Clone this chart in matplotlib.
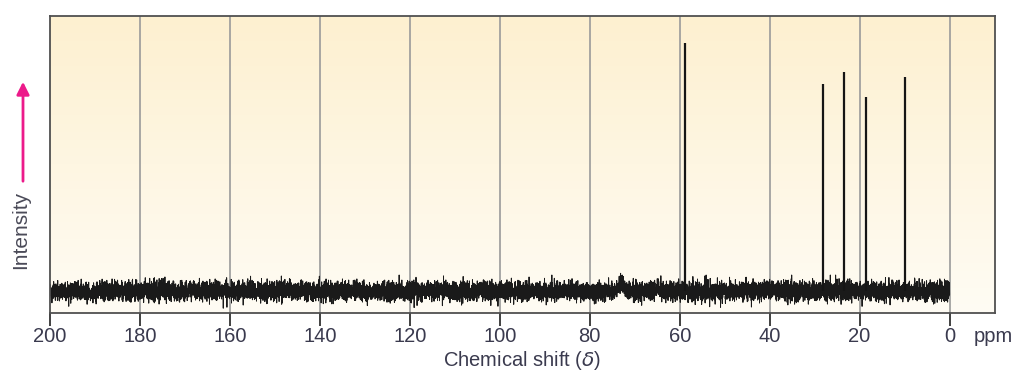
import numpy as np
import matplotlib
matplotlib.use("Agg")
import matplotlib.pyplot as plt

# peak positions (ppm) and heights (baseline = 0)
peak_ppm = [58.9, 28.2, 23.5, 18.5, 9.85]
peak_height = [248, 207, 219, 194, 214]
tick_ppm = [200, 180, 160, 140, 120, 100, 80, 60, 40, 20, 0]
tick_labels = ["200", "180", "160", "140", "120", "100", "80", "60", "40", "20", "0"]
bump_ppm = 73.1
bump_height = 9

plt.rcParams['font.family'] = ['Liberation Sans', 'DejaVu Sans']
txt_col = "#3a3a4e"

fig = plt.figure(figsize=(10.2, 3.71), dpi=100)
ax = fig.add_axes([50 / 1020, 58 / 371, 945 / 1020, 297 / 371])

x_min, x_max = -10.1, 200
y_min, y_max = -22, 275

# background gradient (peach at top -> almost white at bottom)
top = np.array([253, 240, 208]) / 255
bot = np.array([255, 252, 244]) / 255
t = np.linspace(0, 1, 256)[:, None]
grad = (top * (1 - t) + bot * t)[:, None, :]
ax.imshow(grad, extent=[x_max, x_min, y_min, y_max], aspect="auto", zorder=0)

# vertical grid
for p in tick_ppm[1:]:
    ax.axvline(p, color="#9a9a9a", lw=1.2, zorder=1)

# baseline noise texture (seeded so the picture is the same every run)
rng = np.random.default_rng(7)
x = np.linspace(200, 0, 12000)
noise = rng.normal(0, 4.7, x.size)
noise = np.clip(noise, -18, 16)
noise += bump_height * np.exp(-((x - bump_ppm) / 0.7) ** 2)
ax.plot(x, noise, color="#1a1a1a", lw=0.7, zorder=2)

# peaks
ax.vlines(peak_ppm, 0, peak_height, color="#151515", lw=1.6, zorder=3)

ax.set_xlim(x_max, x_min)
ax.set_ylim(y_min, y_max)

for s in ax.spines.values():
    s.set_color("#505050")
    s.set_linewidth(1.3)
    s.set_zorder(4)

ax.set_yticks([])
ax.set_xticks(tick_ppm)
ax.set_xticklabels(tick_labels, fontsize=14.5, color=txt_col)
ax.tick_params(axis="x", direction="out", length=9, width=1.4, color="#404040", pad=1)

ax.set_xlabel("Chemical shift ($\\delta$)", fontsize=14.5, color=txt_col, labelpad=2)
fig.text(974 / 1020, 1 - 336 / 371, "ppm", fontsize=14.5, color=txt_col, va="center", ha="left")

# intensity arrow and label
fig.text(21 / 1020, 1 - 230 / 371, "Intensity", rotation=90, fontsize=15,
         color="#4a4a58", ha="center", va="center")
fig.add_artist(matplotlib.patches.FancyArrowPatch(
    (23 / 1020, 1 - 184 / 371), (23 / 1020, 1 - 79 / 371),
    transform=fig.transFigure, arrowstyle="-|>,head_length=5,head_width=2.5",
    color="#ec1a8a", lw=2, mutation_scale=1.5))

fig.savefig("out.png", dpi=100, facecolor="white")
